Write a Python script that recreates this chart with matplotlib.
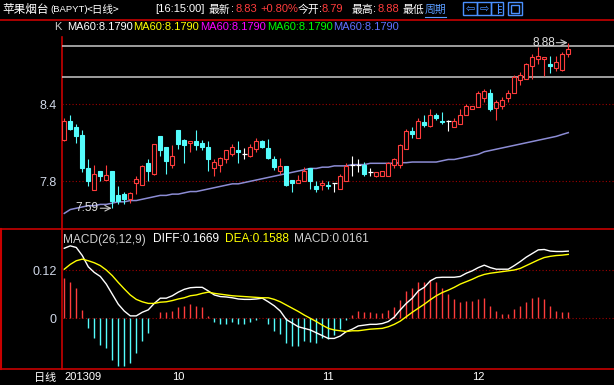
import matplotlib
matplotlib.use('Agg')
import matplotlib.pyplot as plt
from matplotlib.patches import Rectangle
import numpy as np

plt.rcParams['font.family'] = ['Liberation Sans', 'Noto Sans CJK SC', 'DejaVu Sans']
CJK = ['Noto Sans CJK SC', 'DejaVu Sans']

# ---- data ----
opens = [8.12, 8.27, 8.22, 8.16, 7.90, 7.73, 7.88, 7.81, 7.88, 7.69,
         7.70, 7.66, 7.79, 7.77, 7.94, 7.86, 8.15, 8.07, 7.93, 8.20,
         8.12, 8.10, 8.11, 8.10, 8.07, 7.90, 7.93, 7.97, 8.01, 8.04,
         8.01, 8.00, 8.05, 8.11, 8.06, 7.97, 7.88, 7.92, 7.81, 7.79,
         7.80, 7.90, 7.76, 7.77, 7.77, 7.79, 7.74, 7.80, 7.93, 7.93,
         7.93, 7.87, 7.84, 7.84, 7.84, 7.93, 7.93, 8.05, 8.19, 8.14,
         8.26, 8.23, 8.32, 8.27, 8.27, 8.22, 8.25, 8.32, 8.36, 8.38,
         8.45, 8.49, 8.37, 8.39, 8.45, 8.49, 8.59, 8.60, 8.70, 8.75,
         8.75, 8.71, 8.68, 8.67, 8.79]
closes = [8.27, 8.21, 8.15, 7.90, 7.80, 7.86, 7.84, 7.85, 7.65, 7.65,
          7.66, 7.71, 7.82, 7.92, 7.88, 8.09, 8.04, 7.96, 8.00, 8.09,
          8.08, 8.11, 8.08, 8.07, 7.97, 7.95, 7.98, 8.04, 8.07, 8.03,
          8.01, 8.07, 8.11, 8.07, 7.98, 7.91, 7.92, 7.77, 7.79, 7.81,
          7.88, 7.80, 7.74, 7.79, 7.76, 7.79, 7.84, 7.92, 7.93, 7.93,
          7.86, 7.87, 7.87, 7.88, 7.94, 7.97, 8.08, 8.19, 8.17, 8.27,
          8.24, 8.32, 8.29, 8.26, 8.27, 8.27, 8.32, 8.39, 8.39, 8.49,
          8.50, 8.36, 8.42, 8.43, 8.49, 8.61, 8.63, 8.71, 8.77, 8.78,
          8.77, 8.70, 8.73, 8.79, 8.83]
highs = [8.29, 8.32, 8.25, 8.20, 7.97, 7.93, 7.88, 7.93, 7.88, 7.76,
         7.72, 7.72, 7.84, 7.93, 7.97, 8.09, 8.15, 8.07, 8.08, 8.20,
         8.13, 8.11, 8.20, 8.12, 8.11, 7.97, 7.99, 8.04, 8.09, 8.11,
         8.06, 8.09, 8.14, 8.12, 8.13, 8.00, 7.98, 7.92, 7.81, 7.85,
         7.91, 7.90, 7.80, 7.81, 7.80, 7.79, 7.86, 7.94, 8.00, 7.97,
         7.95, 7.90, 7.87, 7.88, 7.95, 7.98, 8.09, 8.21, 8.22, 8.29,
         8.32, 8.36, 8.33, 8.34, 8.28, 8.29, 8.36, 8.40, 8.39, 8.50,
         8.52, 8.52, 8.43, 8.46, 8.51, 8.63, 8.65, 8.72, 8.79, 8.85,
         8.77, 8.78, 8.78, 8.81, 8.88]
lows = [8.11, 8.20, 8.10, 7.87, 7.76, 7.73, 7.80, 7.81, 7.59, 7.62,
        7.62, 7.63, 7.70, 7.77, 7.80, 7.85, 8.00, 7.86, 7.90, 8.05,
        7.94, 8.03, 8.04, 8.04, 7.88, 7.84, 7.87, 7.94, 8.00, 7.94,
        7.97, 7.99, 8.03, 8.06, 7.97, 7.89, 7.86, 7.76, 7.72, 7.79,
        7.80, 7.74, 7.72, 7.73, 7.74, 7.72, 7.74, 7.80, 7.84, 7.87,
        7.84, 7.84, 7.83, 7.84, 7.84, 7.90, 7.90, 8.05, 8.14, 8.14,
        8.22, 8.22, 8.28, 8.25, 8.19, 8.22, 8.25, 8.32, 8.36, 8.38,
        8.42, 8.35, 8.28, 8.36, 8.42, 8.49, 8.55, 8.60, 8.60, 8.71,
        8.62, 8.64, 8.66, 8.66, 8.77]
ma60 = [7.55, 7.58, 7.59, 7.60, 7.61, 7.61, 7.62, 7.62, 7.63, 7.64,
        7.64, 7.65, 7.65, 7.66, 7.67, 7.68, 7.69, 7.69, 7.70, 7.70,
        7.71, 7.72, 7.72, 7.73, 7.74, 7.75, 7.76, 7.77, 7.78, 7.78,
        7.79, 7.80, 7.81, 7.82, 7.83, 7.84, 7.85, 7.86, 7.87, 7.88,
        7.89, 7.90, 7.90, 7.91, 7.91, 7.92, 7.92, 7.92, 7.93, 7.93,
        7.93, 7.94, 7.94, 7.94, 7.94, 7.94, 7.945, 7.945, 7.95, 7.95,
        7.95, 7.95, 7.95, 7.96, 7.97, 7.97, 7.98, 7.99, 8.00, 8.01,
        8.03, 8.04, 8.05, 8.06, 8.07, 8.08, 8.09, 8.10, 8.11, 8.12,
        8.13, 8.14, 8.15, 8.165, 8.179]
draw_lines = [8.855, 8.61]   # the two white horizontal lines

diff = [0.174, 0.180, 0.176, 0.156, 0.128, 0.114, 0.104, 0.085, 0.060, 0.035,
        0.018, 0.006, 0.006, 0.015, 0.021, 0.037, 0.050, 0.050, 0.056, 0.065,
        0.072, 0.076, 0.077, 0.077, 0.068, 0.058, 0.054, 0.053, 0.051, 0.048,
        0.047, 0.047, 0.048, 0.050, 0.041, 0.031, 0.018, -0.003, -0.012, -0.021,
        -0.025, -0.029, -0.036, -0.043, -0.050, -0.050, -0.044, -0.033, -0.027, -0.019,
        -0.017, -0.015, -0.015, -0.013, -0.008, 0.003, 0.021, 0.037, 0.050, 0.068,
        0.077, 0.093, 0.101, 0.102, 0.102, 0.102, 0.104, 0.112, 0.118, 0.126,
        0.132, 0.126, 0.122, 0.122, 0.122, 0.131, 0.141, 0.152, 0.161, 0.170,
        0.171, 0.167, 0.166, 0.166, 0.1669]
dea = [0.122, 0.134, 0.143, 0.147, 0.143, 0.138, 0.131, 0.120, 0.106, 0.089,
       0.073, 0.058, 0.047, 0.041, 0.037, 0.037, 0.040, 0.041, 0.044, 0.048,
       0.051, 0.056, 0.058, 0.062, 0.065, 0.062, 0.060, 0.058, 0.056, 0.055,
       0.054, 0.053, 0.052, 0.051, 0.051, 0.047, 0.041, 0.033, 0.025, 0.017,
       0.008, 0.000, -0.008, -0.017, -0.025, -0.029, -0.031, -0.033, -0.031, -0.031,
       -0.029, -0.027, -0.026, -0.025, -0.021, -0.015, -0.007, 0.004, 0.015, 0.025,
       0.035, 0.046, 0.056, 0.064, 0.070, 0.077, 0.085, 0.091, 0.097, 0.104,
       0.109, 0.112, 0.114, 0.116, 0.118, 0.120, 0.124, 0.131, 0.138, 0.145,
       0.151, 0.154, 0.156, 0.157, 0.1588]
macd = [0.101, 0.090, 0.075, 0.021, -0.023, -0.048, -0.066, -0.075, -0.104, -0.118,
        -0.118, -0.110, -0.085, -0.056, -0.036, 0.001, 0.015, 0.015, 0.018, 0.027,
        0.031, 0.035, 0.031, 0.027, 0.006, -0.008, -0.015, -0.013, -0.010, -0.013,
        -0.014, -0.010, -0.005, 0.000, -0.014, -0.031, -0.040, -0.062, -0.069, -0.069,
        -0.056, -0.060, -0.062, -0.050, -0.051, -0.041, -0.027, -0.003, 0.008, 0.018,
        0.015, 0.015, 0.013, 0.013, 0.021, 0.029, 0.046, 0.068, 0.076, 0.090,
        0.090, 0.095, 0.089, 0.076, 0.060, 0.048, 0.041, 0.043, 0.043, 0.048,
        0.051, 0.031, 0.018, 0.011, 0.011, 0.023, 0.031, 0.041, 0.051, 0.054,
        0.048, 0.031, 0.018, 0.016, 0.0161]

month_idx = [0, 18, 43, 68]
month_lbl = ['201309', '10', '11', '12']

RED = '#ff3c3c'
CYAN = '#54fcfc'
FRAME = '#c80000'
GRID = '#a00000'

W, H = 614, 385
fig = plt.figure(figsize=(W / 100, H / 100), dpi=100, facecolor='black')

# background axes in pixel units: frames and header texts
bg = fig.add_axes([0, 0, 1, 1])
bg.set_xlim(0, W)
bg.set_ylim(H, 0)
bg.axis('off')
bg.set_zorder(0)

ax_k = fig.add_axes([62 / W, (H - 228) / H, 552 / W, 192 / H])
ax_m = fig.add_axes([62 / W, (H - 369) / H, 552 / W, 140 / H])
for ax in (ax_k, ax_m):
    ax.set_facecolor('none')
    ax.set_zorder(1)
    for s in ax.spines.values():
        s.set_visible(False)
    ax.set_xlim(-0.38, 91.62)

# ---- K chart ----
o = np.array(opens); c = np.array(closes)
h = np.array(highs); l = np.array(lows)
x = np.arange(len(o))
up = c > o
dn = c < o
eq = c == o

ax_k.set_ylim(7.436, 8.932)
for v in (7.8, 8.4):
    ax_k.axhline(v, color=GRID, lw=0.8, ls=(0, (1, 2)), zorder=1)
for v in draw_lines:
    ax_k.axhline(v, color='#c8c8c8', lw=1.1, zorder=1)

ax_k.plot(x, ma60, color='#8c8cd4', lw=1.1, zorder=2)

# red (up) candles: hollow
ax_k.vlines(x[up], c[up], h[up], color=RED, lw=0.8, zorder=3)
ax_k.vlines(x[up], l[up], o[up], color=RED, lw=0.8, zorder=3)
ax_k.bar(x[up], np.maximum(c[up] - o[up], 0.004), bottom=o[up], width=0.6,
         facecolor='black', edgecolor=RED, lw=0.8, zorder=4)
# cyan (down) candles: filled
ax_k.vlines(x[dn], l[dn], h[dn], color=CYAN, lw=0.8, zorder=3)
ax_k.bar(x[dn], np.maximum(o[dn] - c[dn], 0.004), bottom=c[dn], width=0.6,
         facecolor=CYAN, edgecolor=CYAN, lw=0.8, zorder=4)
# doji
ax_k.vlines(x[eq], l[eq], h[eq], color='white', lw=0.8, zorder=3)
ax_k.hlines(c[eq], x[eq] - 0.45, x[eq] + 0.45, color='white', lw=0.9, zorder=4)

ax_k.set_xticks([])
ax_k.set_yticks([7.8, 8.4])
ax_k.set_yticklabels(['7.8', '8.4'])
ax_k.tick_params(axis='y', length=0, pad=3.6, labelcolor='#d0d8e8', labelsize=9)

hi_i = int(np.argmax(h)); lo_i = int(np.argmin(l))
for idx, val in ((hi_i, h[hi_i]), (lo_i, l[lo_i])):
    ax_k.text(idx - 2.25, val, f'{val:.2f}', ha='right', va='center',
              color='#e0e0e0', fontsize=8.5, zorder=5)
    ax_k.annotate('', xy=(idx - 0.1, val), xytext=(idx - 2.0, val),
                  arrowprops=dict(arrowstyle='->', color='#c8c8c8', lw=0.8,
                                  shrinkA=0, shrinkB=0), zorder=5)

# ---- MACD ----
ax_m.set_ylim(-0.126, 0.2219)
for v in (0, 0.12):
    ax_m.axhline(v, color=GRID, lw=0.8, ls=(0, (1, 2)), zorder=1)
mv = np.array(macd)
ax_m.vlines(x, 0, mv, colors=[RED if v > 0 else CYAN for v in mv], lw=1.0, zorder=2)
ax_m.plot(x, diff, color='white', lw=1.0, zorder=3)
ax_m.plot(x, dea, color='#ffff00', lw=1.0, zorder=3)
ax_m.set_yticks([0, 0.12])
ax_m.set_yticklabels(['0', '0.12'])
ax_m.tick_params(axis='y', length=0, pad=3.6, labelcolor='#d0d8e8', labelsize=9)
ax_m.set_xticks(month_idx)
ax_m.set_xticklabels(month_lbl)
ax_m.tick_params(axis='x', length=0, pad=2.5, labelcolor='white', labelsize=8)
for tl in ax_m.get_xticklabels():
    tl.set_ha('left')

# ---- frames ----
bg.plot([0, W], [19.5, 19.5], color=FRAME, lw=1.2)
bg.plot([0, W], [228.5, 228.5], color=FRAME, lw=1.2)
bg.plot([0, W], [369, 369], color=FRAME, lw=1.2)
bg.plot([61.5, 61.5], [37, 369], color=FRAME, lw=1.2)
bg.plot([1, 1], [228.5, 369], color=FRAME, lw=1.5)

# ---- header ----
def t(px, py, s, color='white', size=8, fam=None, **kw):
    bg.text(px, py, s, color=color, fontsize=size, family=fam or plt.rcParams['font.family'],
            ha='left', va='center', **kw)

t(2, 9.5, '苹果烟台', size=8.4, fam=CJK)
t(50, 9.5, '(BAPYT)', size=6.8)
t(87, 9.5, '<日线>', size=7.6, fam=CJK)
t(155, 9.5, '[16:15:00]')
t(209, 9.5, '最新', size=7.8, fam=CJK)
t(231, 9.5, ':')
t(235, 9.5, '8.83', color=RED)
t(260, 9.5, '+0.80%', color=RED)
t(298, 9.5, '今开', size=7.8, fam=CJK)
t(319, 9.5, ':')
t(322, 9.5, '8.79', color=RED)
t(352, 9.5, '最高', size=7.8, fam=CJK)
t(373, 9.5, ':')
t(377, 9.5, '8.88', color=RED)
t(403, 9.5, '最低', size=7.8, fam=CJK)
t(425, 9.5, '周期', color='#5a9cff', size=7.8, fam=CJK)
bg.plot([425, 446], [16.5, 16.5], color='#5a9cff', lw=0.8)

ICON = '#4a90ff'
for x0, x1 in [(463, 477), (477, 491), (491, 503), (508, 522)]:
    bg.add_patch(Rectangle((x0, 2), x1 - x0, 13, fill=False, edgecolor=ICON, lw=1))
bg.text(470, 8.5, '⇦', color=ICON, fontsize=8, family='DejaVu Sans', ha='center', va='center')
bg.text(484, 8.5, '⇨', color=ICON, fontsize=8, family='DejaVu Sans', ha='center', va='center')
bg.plot([498, 498], [4, 13], color=ICON, lw=0.8)
for yy in (6, 9, 12):
    bg.plot([498, 501], [yy, yy], color=ICON, lw=0.6)
bg.add_patch(Rectangle((511, 5), 8, 7.5, fill=False, edgecolor=ICON, lw=1))

t(54, 27.5, 'K', color='#c8c8c8')
ma_cols = ['#ffffff', '#ffff00', '#ff00ff', '#00ff00', '#6070ff']
for k, col in enumerate(ma_cols):
    t(67 + 66.6 * k, 27.5, f'MA60:{ma60[-1]:.4f}', color=col, size=8)

t(63, 239.5, 'MACD(26,12,9)', color='#d0d0d0', size=8.6)
t(153, 239.5, f'DIFF:{diff[-1]:.4f}', color='white', size=8.6)
t(225, 239.5, f'DEA:{dea[-1]:.4f}', color='#ffff00', size=8.6)
t(294, 239.5, f'MACD:{macd[-1]:.4f}', color='#d0d0d0', size=8.6)

t(34, 377.5, '日线', size=8, fam=CJK)

fig.savefig('out.png', dpi=100, facecolor='black')
